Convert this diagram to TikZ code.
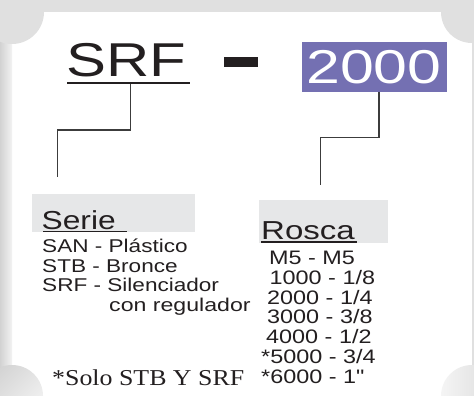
\documentclass[tikz,border=0pt]{standalone}
\usepackage{fontspec}
\setmainfont{Liberation Sans}
\newfontfamily\tnrfont{Liberation Serif}
\usepackage{graphicx}
\definecolor{ink}{RGB}{35,31,32}
\definecolor{purp}{RGB}{116,112,178}
\definecolor{lbl}{RGB}{230,231,232}
\definecolor{framegray}{RGB}{224,224,224}
\definecolor{linegray}{RGB}{60,60,60}
\newcommand{\hs}[2][1.22]{\scalebox{#1}[1]{#2}}
\newcommand{\straightquote}{{\addfontfeatures{Ligatures=TeXOff}"}}
\begin{document}
\begin{tikzpicture}[x=1pt,y=-1pt,
  txt/.style={inner sep=0pt, anchor=base west, text=ink},
  big/.style={txt, font=\fontsize{47.5}{57}\selectfont},
  head/.style={txt, font=\fontsize{26}{30}\selectfont},
  item/.style={txt, font=\fontsize{18.5}{22}\selectfont},
  ritem/.style={txt, font=\fontsize{19.5}{23}\selectfont},
  lblbox/.style={fill=lbl, inner sep=0pt, anchor=north west},
  conn/.style={draw=linegray, line width=1.1pt},
  uline/.style={draw=ink}]
\useasboundingbox (0,0) rectangle (474,396);
% background frame
\begin{scope}
\clip (0,0) rectangle (474,396);
\fill[framegray] (0,0) rectangle (474,396);
\fill[white] (12,12) rectangle (472,396);
\shade[left color=gray!35, right color=gray!10] (0,0) rectangle (12,396);
\fill[framegray] (12,12) circle (32pt);
\fill[framegray] (472,12) circle (31pt);
\shade[left color=gray!35, right color=gray!8, shading angle=45] (12,396) circle (31pt);
\shade[left color=gray!8, right color=gray!30] (472,396) circle (31pt);
\end{scope}

% top code
\node[big] (srf) at (66,77) {\hs[1.26]{SRF}};
\draw[uline, line width=2.5pt] (67,83) -- (190,83);
\coordinate (srful) at (130.7,84);
\node[fill=ink, minimum width=34pt, minimum height=10pt, inner sep=0pt] (dash) at (241,62) {};
\node[fill=purp, minimum width=145pt, minimum height=50pt, inner sep=0pt, text=white,
      font=\fontsize{47.5}{57}\selectfont] (code) at (374,66.7) {\hs[1.28]{2000}};
\coordinate (codeb) at (379,91.7);

% label boxes
\node[lblbox, minimum width=163pt, minimum height=38pt] (seriebox) at (32,194) {};
\node[lblbox, minimum width=129pt, minimum height=43pt] (roscabox) at (259,200) {};
\coordinate (serietop) at (57.3,177);
\coordinate (roscatop) at (320.7,184.5);

% connectors
\draw[conn] (srful) -- (130.7,130) -- (57.3,130) -- (serietop);
\draw[conn] (codeb) -- (379,137.7) -- (320.7,137.7) -- (roscatop);

% Serie block
\node[head] (serie) at (41.5,229.5) {\hs[1.22]{Serie}};
\draw[uline, line width=1.6pt] (43,231.5) -- (127,231.5);
\node[item] (s1) at (42,252) {\hs{SAN - Plástico}};
\node[item] (s2) at (42,272) {\hs{STB - Bronce}};
\node[item] (s3) at (42,291.5) {\hs{SRF - Silenciador}};
\node[item] (s4) at (109,311) {\hs[1.25]{con regulador}};

% Rosca block
\node[head] (rosca) at (261,239) {\hs[1.27]{Rosca}};
\draw[uline, line width=1.6pt] (261,241.7) -- (357,241.7);
\node[ritem] (r1) at (269,264) {\hs[1.2]{M5 - M5}};
\node[ritem] (r2) at (269.5,284) {\hs[1.2]{1000 - 1/8}};
\node[ritem] (r3) at (267,304) {\hs[1.2]{2000 - 1/4}};
\node[ritem] (r4) at (267,323.5) {\hs[1.2]{3000 - 3/8}};
\node[ritem] (r5) at (266,343.5) {\hs[1.2]{4000 - 1/2}};
\node[ritem] (r6) at (261,363.5) {\hs[1.2]{*5000 - 3/4}};
\node[ritem] (r7) at (261,383.5) {\hs[1.2]{*6000 - 1\straightquote}};

% note
\node[txt, font=\tnrfont\fontsize{22.7}{26}\selectfont] (note) at (52,385) {\hs[1.14]{*Solo STB Y SRF}};
\end{tikzpicture}
\end{document}
